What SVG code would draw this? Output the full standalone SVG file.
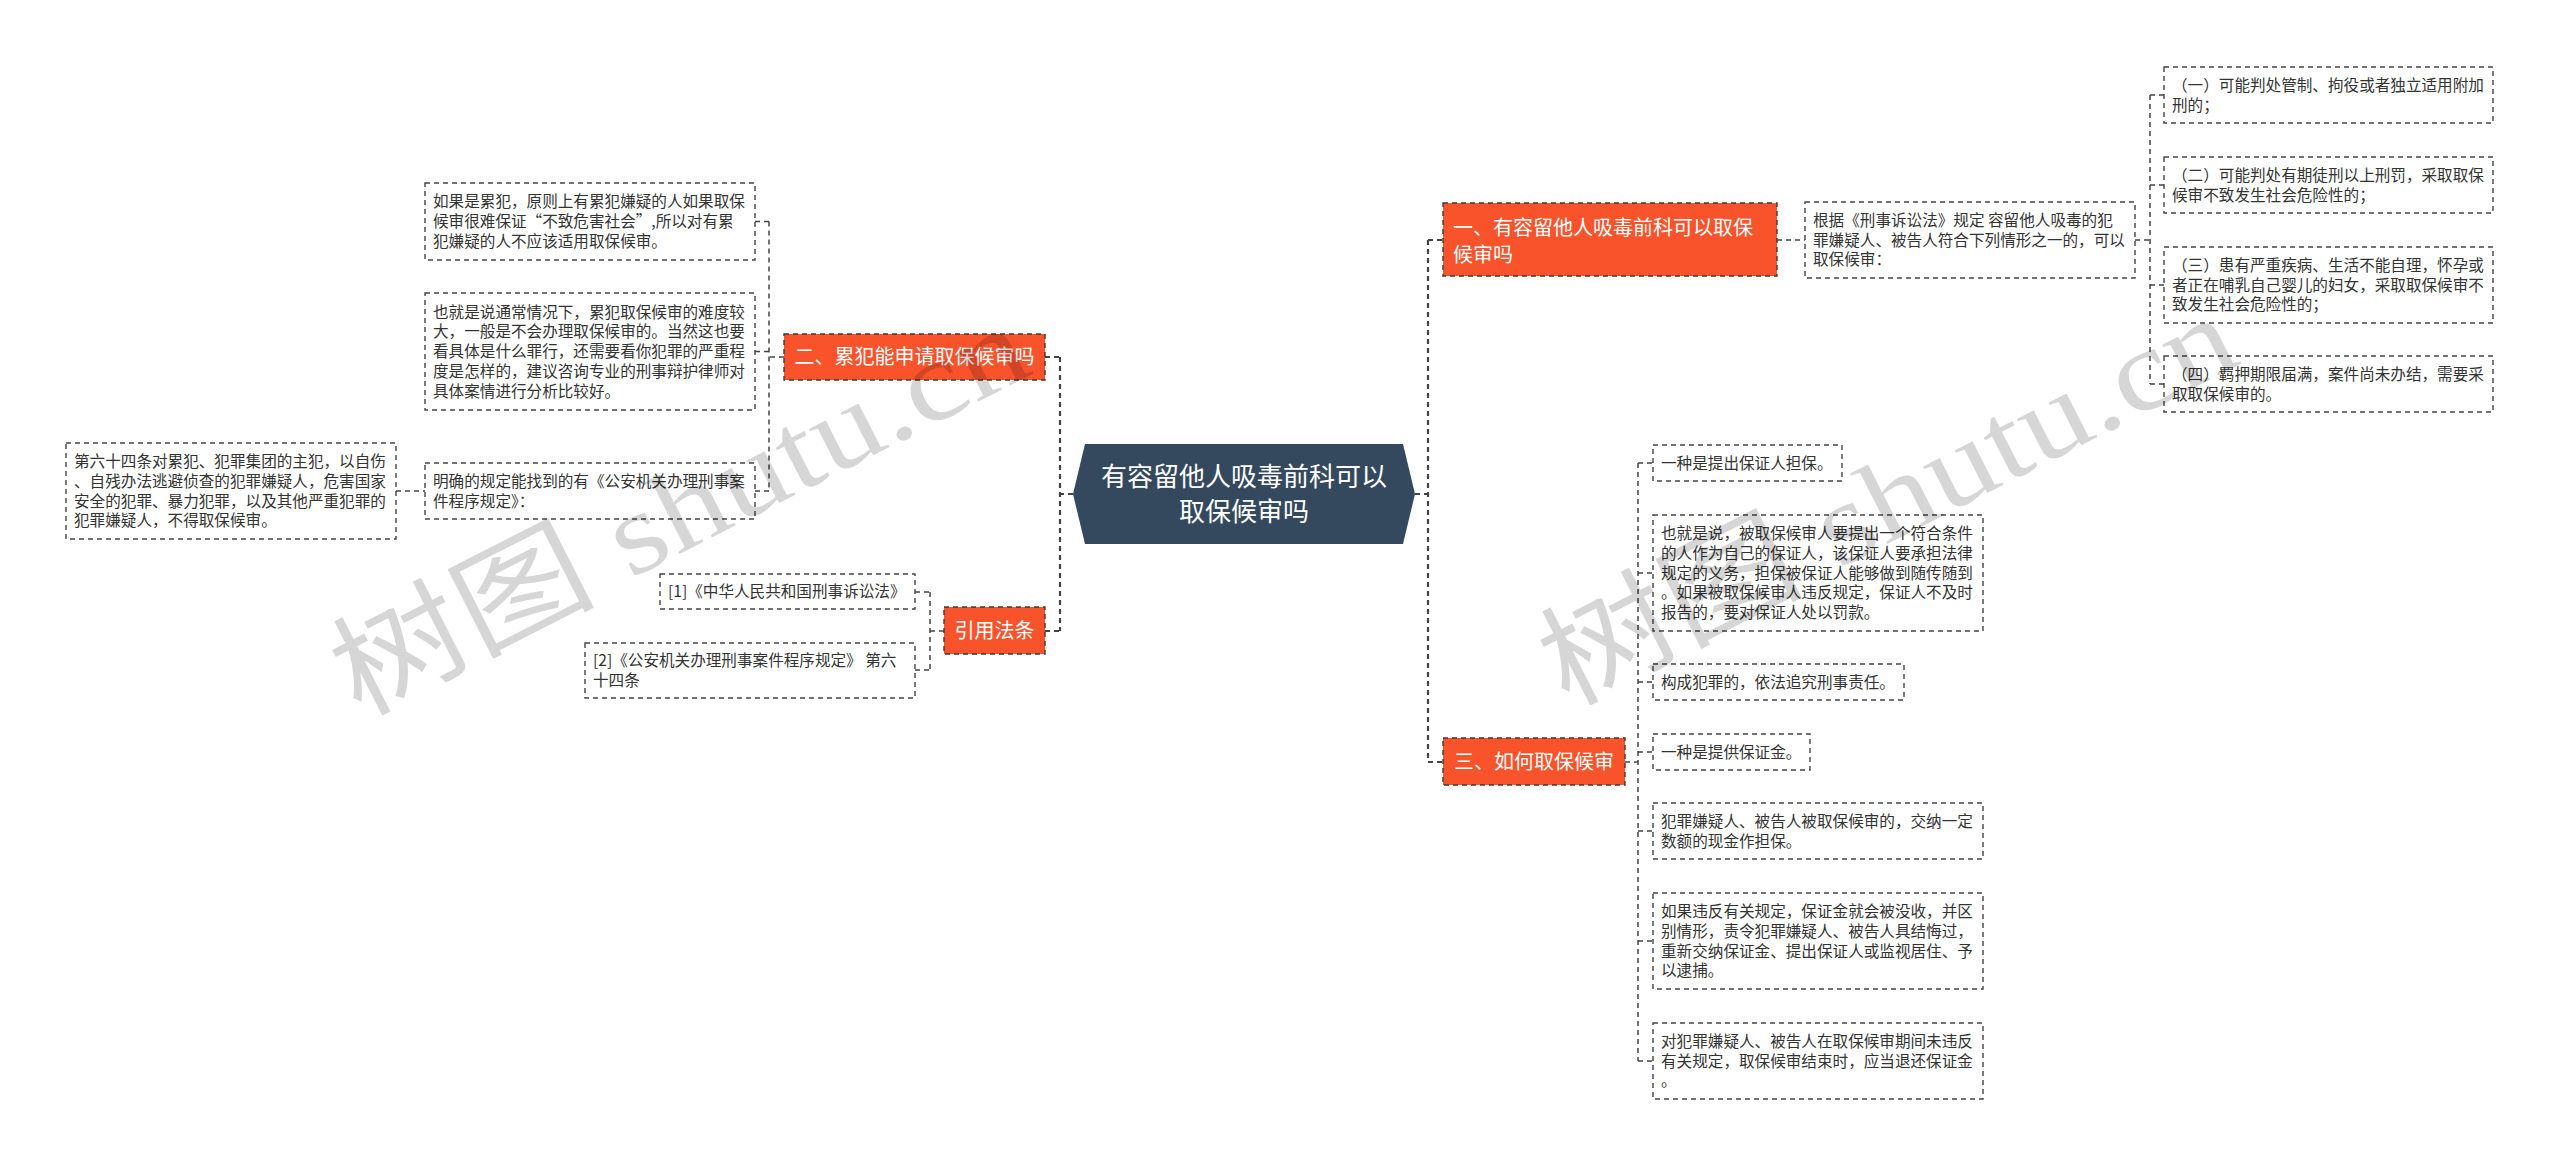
<svg xmlns="http://www.w3.org/2000/svg" width="2560" height="1166" viewBox="0 0 2560 1166">
<defs>
<style>
.box{fill:#fff;stroke:#444;stroke-width:1.4;stroke-dasharray:5 4}
.org{fill:#F9532C;stroke:#3a3a3a;stroke-width:1.4;stroke-dasharray:5 4}
.t{font-family:"Noto Sans CJK SC","Noto Sans",sans-serif;font-size:15.6px;fill:#333}
.ot{font-family:"Noto Sans CJK SC","Noto Sans",sans-serif;font-size:20px;fill:#fff}
.ct{font-family:"Noto Sans CJK SC","Noto Sans",sans-serif;font-size:26px;fill:#fff}
.conn path{fill:none;stroke:#444;stroke-width:1.5;stroke-dasharray:5 4}
.conn path.trunk{stroke-width:2.2}
.wm{font-family:"Liberation Serif","Noto Sans CJK SC",serif;font-size:115px;fill:#000;fill-opacity:0.16}
</style>
</defs>
<rect width="2560" height="1166" fill="#fff"/>

<g id="connectors" class="conn">
<path class="trunk" d="M1073,494 H1060 M1060,357 V631 M1045,357 H1060 M1045,631 H1060"/>
<path class="trunk" d="M1415,494 H1428 M1428,240 V762 M1428,240 H1443 M1428,762 H1443"/>
<path d="M784,357 H769 M769,221.5 V491 M755,221.5 H769 M755,351.5 H769 M755,491 H769"/>
<path d="M396,491 H425"/>
<path d="M944,631 H930 M930,592 V670 M915,592 H930 M915,670 H930"/>
<path d="M1777,240 H1805"/>
<path d="M2135,240 H2150 M2150,95 V384 M2150,95 H2164 M2150,185 H2164 M2150,285 H2164 M2150,384 H2164"/>
<path d="M1625,762 H1638 M1638,463 V1061 M1638,463 H1653 M1638,573 H1653 M1638,682 H1653 M1638,752 H1653 M1638,831 H1653 M1638,941 H1653 M1638,1061 H1653"/>
</g>

<g id="root">
<polygon points="1073,494 1085,444 1403,444 1415,494 1403,544 1085,544" fill="#34495E"/>
<text class="ct" text-anchor="middle"><tspan x="1244" y="486.4">有容留他人吸毒前科可以</tspan><tspan x="1244" y="521.4">取保候审吗</tspan></text>
</g>

<g id="n1">
<rect class="org" x="1443" y="203" width="334" height="73"/>
<text class="ot"><tspan x="1453" y="234.7">一、有容留他人吸毒前科可以取保</tspan><tspan x="1453" y="262.2">候审吗</tspan></text>
</g>
<g id="n1a">
<rect class="box" x="1805" y="202" width="330" height="76"/>
<text class="t"><tspan x="1813" y="225.9">根据《刑事诉讼法》规定 容留他人吸毒的犯</tspan><tspan x="1813" y="245.6">罪嫌疑人、被告人符合下列情形之一的，可以</tspan><tspan x="1813" y="265.3">取保候审：</tspan></text>
</g>
<g id="n1a1">
<rect class="box" x="2164" y="67" width="329" height="56"/>
<text class="t"><tspan x="2172" y="90.8">（一）可能判处管制、拘役或者独立适用附加</tspan><tspan x="2172" y="110.5">刑的；</tspan></text>
</g>
<g id="n1a2">
<rect class="box" x="2164" y="157" width="329" height="56"/>
<text class="t"><tspan x="2172" y="180.8">（二）可能判处有期徒刑以上刑罚，采取取保</tspan><tspan x="2172" y="200.5">候审不致发生社会危险性的；</tspan></text>
</g>
<g id="n1a3">
<rect class="box" x="2164" y="247" width="329" height="76"/>
<text class="t"><tspan x="2172" y="270.9">（三）患有严重疾病、生活不能自理，怀孕或</tspan><tspan x="2172" y="290.6">者正在哺乳自己婴儿的妇女，采取取保候审不</tspan><tspan x="2172" y="310.3">致发生社会危险性的；</tspan></text>
</g>
<g id="n1a4">
<rect class="box" x="2164" y="356" width="329" height="56"/>
<text class="t"><tspan x="2172" y="379.8">（四）羁押期限届满，案件尚未办结，需要采</tspan><tspan x="2172" y="399.5">取取保候审的。</tspan></text>
</g>

<g id="n3">
<rect class="org" x="1443" y="738" width="182" height="47"/>
<text class="ot" x="1534" y="768.7" text-anchor="middle">三、如何取保候审</text>
</g>
<g id="n3a">
<rect class="box" x="1653" y="445" width="189" height="36"/>
<text class="t" x="1661" y="468.6">一种是提出保证人担保。</text>
</g>
<g id="n3b">
<rect class="box" x="1653" y="515" width="330" height="116"/>
<text class="t"><tspan x="1661" y="539.2">也就是说，被取保候审人要提出一个符合条件</tspan><tspan x="1661" y="558.9">的人作为自己的保证人，该保证人要承担法律</tspan><tspan x="1661" y="578.6">规定的义务，担保被保证人能够做到随传随到</tspan><tspan x="1661" y="598.3">。如果被取保候审人违反规定，保证人不及时</tspan><tspan x="1661" y="618">报告的，要对保证人处以罚款。</tspan></text>
</g>
<g id="n3c">
<rect class="box" x="1653" y="664" width="251" height="36"/>
<text class="t" x="1661" y="687.6">构成犯罪的，依法追究刑事责任。</text>
</g>
<g id="n3d">
<rect class="box" x="1653" y="734" width="157" height="36"/>
<text class="t" x="1661" y="757.6">一种是提供保证金。</text>
</g>
<g id="n3e">
<rect class="box" x="1653" y="803" width="330" height="56"/>
<text class="t"><tspan x="1661" y="826.8">犯罪嫌疑人、被告人被取保候审的，交纳一定</tspan><tspan x="1661" y="846.5">数额的现金作担保。</tspan></text>
</g>
<g id="n3f">
<rect class="box" x="1653" y="893" width="330" height="96"/>
<text class="t"><tspan x="1661" y="917.1">如果违反有关规定，保证金就会被没收，并区</tspan><tspan x="1661" y="936.8">别情形，责令犯罪嫌疑人、被告人具结悔过，</tspan><tspan x="1661" y="956.5">重新交纳保证金、提出保证人或监视居住、予</tspan><tspan x="1661" y="976.2">以逮捕。</tspan></text>
</g>
<g id="n3g">
<rect class="box" x="1653" y="1023" width="330" height="76"/>
<text class="t"><tspan x="1661" y="1046.9">对犯罪嫌疑人、被告人在取保候审期间未违反</tspan><tspan x="1661" y="1066.6">有关规定，取保候审结束时，应当退还保证金</tspan><tspan x="1661" y="1086.3">。</tspan></text>
</g>

<g id="n2">
<rect class="org" x="784" y="334" width="261" height="46"/>
<text class="ot" x="914.5" y="364.2" text-anchor="middle">二、累犯能申请取保候审吗</text>
</g>
<g id="n2a">
<rect class="box" x="425" y="183" width="330" height="77"/>
<text class="t"><tspan x="433" y="207.4">如果是累犯，原则上有累犯嫌疑的人如果取保</tspan><tspan x="433" y="227.1">候审很难保证“不致危害社会”,所以对有累</tspan><tspan x="433" y="246.8">犯嫌疑的人不应该适用取保候审。</tspan></text>
</g>
<g id="n2b">
<rect class="box" x="425" y="293" width="330" height="117"/>
<text class="t"><tspan x="433" y="317.7">也就是说通常情况下，累犯取保候审的难度较</tspan><tspan x="433" y="337.4">大，一般是不会办理取保候审的。当然这也要</tspan><tspan x="433" y="357.1">看具体是什么罪行，还需要看你犯罪的严重程</tspan><tspan x="433" y="376.8">度是怎样的，建议咨询专业的刑事辩护律师对</tspan><tspan x="433" y="396.5">具体案情进行分析比较好。</tspan></text>
</g>
<g id="n2c">
<rect class="box" x="425" y="463" width="330" height="56"/>
<text class="t"><tspan x="433" y="486.8">明确的规定能找到的有《公安机关办理刑事案</tspan><tspan x="433" y="506.5">件程序规定》：</tspan></text>
</g>
<g id="n2c1">
<rect class="box" x="66" y="443" width="330" height="96"/>
<text class="t"><tspan x="74" y="467.1">第六十四条对累犯、犯罪集团的主犯，以自伤</tspan><tspan x="74" y="486.8">、自残办法逃避侦查的犯罪嫌疑人，危害国家</tspan><tspan x="74" y="506.5">安全的犯罪、暴力犯罪，以及其他严重犯罪的</tspan><tspan x="74" y="526.2">犯罪嫌疑人，不得取保候审。</tspan></text>
</g>

<g id="n4">
<rect class="org" x="944" y="607" width="101" height="47"/>
<text class="ot" x="994.5" y="637.7" text-anchor="middle">引用法条</text>
</g>
<g id="n4a">
<rect class="box" x="660" y="574" width="255" height="35"/>
<text class="t" x="668" y="597.1">[1]《中华人民共和国刑事诉讼法》</text>
</g>
<g id="n4b">
<rect class="box" x="585" y="643" width="330" height="55"/>
<text class="t"><tspan x="593" y="666.3">[2]《公安机关办理刑事案件程序规定》 第六</tspan><tspan x="593" y="686">十四条</tspan></text>
</g>

<g id="watermark">
<text class="wm" text-anchor="middle" transform="translate(697,545) rotate(-27)" textLength="760" lengthAdjust="spacingAndGlyphs" x="0" y="0">树图 shutu.cn</text>
<text class="wm" text-anchor="middle" transform="translate(1905,535) rotate(-27)" textLength="760" lengthAdjust="spacingAndGlyphs" x="0" y="0">树图 shutu.cn</text>
</g>
</svg>
